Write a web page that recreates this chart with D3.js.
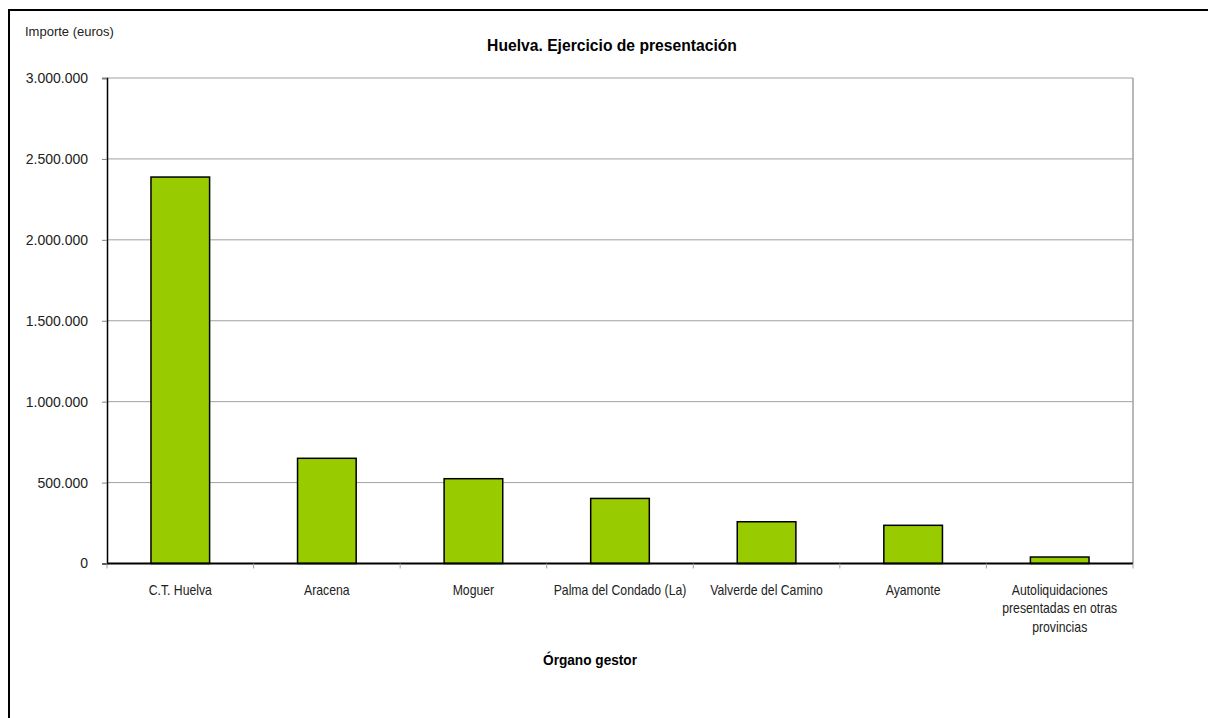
<!DOCTYPE html>
<html>
<head>
<meta charset="utf-8">
<script src="https://cdn.jsdelivr.net/npm/d3@7"></script>
<style>
  html, body { margin: 0; padding: 0; background: #fff; }
  svg { display: block; }
</style>
</head>
<body>
<svg id="chart" width="1208" height="718"></svg>
<script>
const categories = [
  "C.T. Huelva",
  "Aracena",
  "Moguer",
  "Palma del Condado (La)",
  "Valverde del Camino",
  "Ayamonte",
  "Autoliquidaciones\npresentadas en otras\nprovincias"
];
const values = [2388000, 650000, 524000, 402000, 258000, 236000, 40000];
const yTicks = [0, 500000, 1000000, 1500000, 2000000, 2500000, 3000000];
const titleText = "Huelva. Ejercicio de presentación";
const yAxisTitle = "Importe (euros)";
const xAxisTitle = "Órgano gestor";

const svg = d3.select("#chart");
const W = 1208, H = 718;
const plot = { left: 107, right: 1133, top: 78, bottom: 563.5 };
const font = "'Liberation Sans', Arial, sans-serif";

// helper: horizontally condensed text (mimics a narrow face)
function narrowText(parent, x, y, lines, opts) {
  const g = parent.append("g").attr("transform", `translate(${x},${y}) scale(${opts.scale},1)`);
  const t = g.append("text").attr("text-anchor", "middle")
    .attr("font-family", font).attr("font-size", opts.size)
    .attr("font-weight", opts.weight || "normal").attr("fill", opts.fill || "#222");
  lines.forEach((line, i) => {
    t.append("tspan").attr("x", 0).attr("dy", i === 0 ? 0 : (opts.lh || 18.5)).text(line);
  });
  return t;
}

// outer frame
svg.append("rect")
  .attr("x", 9).attr("y", 10)
  .attr("width", W + 20).attr("height", H + 20)
  .attr("fill", "none").attr("stroke", "#000").attr("stroke-width", 2);

const x = d3.scaleBand().domain(categories).range([plot.left, plot.right]).paddingInner(0).paddingOuter(0);
const y = d3.scaleLinear().domain([0, 3000000]).range([plot.bottom, plot.top]);

const fmt = v => d3.format(",")(v).replace(/,/g, ".");

// gridlines
svg.append("g").selectAll("line").data(yTicks.filter(d => d > 0)).join("line")
  .attr("x1", plot.left).attr("x2", plot.right)
  .attr("y1", d => y(d)).attr("y2", d => y(d))
  .attr("stroke", "#a0a0a0").attr("stroke-width", 1);

// right edge
svg.append("line")
  .attr("x1", plot.right).attr("x2", plot.right)
  .attr("y1", plot.top).attr("y2", plot.bottom)
  .attr("stroke", "#a0a0a0").attr("stroke-width", 1.5);

// y axis
const yAxis = d3.axisLeft(y).tickValues(yTicks).tickSize(5).tickPadding(14).tickFormat(fmt);
const gy = svg.append("g").attr("transform", `translate(${plot.left},0)`).call(yAxis);
gy.select(".domain").attr("stroke", "#000").attr("stroke-width", 1.5);
gy.selectAll(".tick line").attr("stroke", "#808080");
gy.selectAll(".tick text").attr("font-family", font).attr("font-size", 14).attr("fill", "#222");

// bars
const bw = x.bandwidth() * 0.4;
svg.append("g").selectAll("rect").data(values).join("rect")
  .attr("x", (d, i) => x(categories[i]) + (x.bandwidth() - bw) / 2)
  .attr("width", bw)
  .attr("y", d => y(d))
  .attr("height", d => y(0) - y(d))
  .attr("fill", "#99cc00")
  .attr("stroke", "#000").attr("stroke-width", 1.5);

// x axis
const gx = svg.append("g").attr("transform", `translate(0,${plot.bottom})`);
gx.append("line").attr("x1", plot.left).attr("x2", plot.right)
  .attr("y1", 0).attr("y2", 0).attr("stroke", "#000").attr("stroke-width", 2);
const boundaries = categories.map(c => x(c)).concat([plot.right]);
gx.selectAll("line.tk").data(boundaries).join("line").attr("class", "tk")
  .attr("x1", d => d).attr("x2", d => d).attr("y1", 0).attr("y2", 5)
  .attr("stroke", "#a0a0a0").attr("stroke-width", 1);

const labelG = svg.append("g");
categories.forEach(c => {
  narrowText(labelG, x(c) + x.bandwidth() / 2, 595, c.split("\n"), { size: 14, scale: 0.875, lh: 18.5 });
});

// titles
narrowText(svg, 612, 51, [titleText], { size: 16.5, scale: 0.95, weight: "bold", fill: "#000" });
svg.append("text").attr("x", 25).attr("y", 36)
  .attr("font-family", font).attr("font-size", 13).attr("fill", "#222").text(yAxisTitle);
narrowText(svg, 590, 665, [xAxisTitle], { size: 15, scale: 0.91, weight: "bold", fill: "#000" });
</script>
</body>
</html>
